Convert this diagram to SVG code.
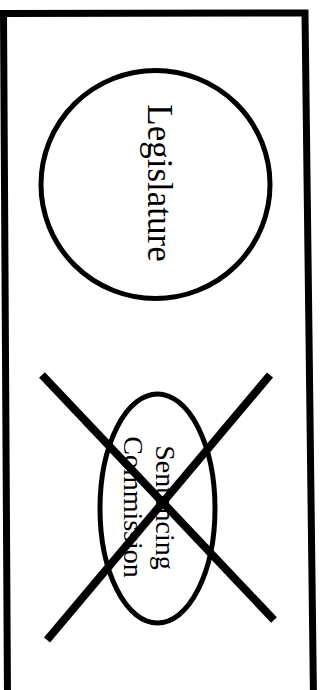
<svg xmlns="http://www.w3.org/2000/svg" width="320" height="690" viewBox="0 0 320 690">
  <style>
    .frame { fill: none; stroke: #000; stroke-width: 7; stroke-linejoin: miter; }
    .node { fill: none; stroke: #000; stroke-width: 5; }
    .cross { stroke: #000; stroke-width: 8; stroke-linecap: butt; }
    .lbl { font-family: "Liberation Serif", "Times New Roman", serif; fill: #000; text-anchor: middle; }
  </style>
  <rect x="0" y="0" width="320" height="690" fill="#fff"/>
  <path class="frame" d="M 7.5 700 L 3.5 13.5 L 305 13 L 313.5 700"/>
  <g id="legislature">
    <ellipse class="node" cx="155.5" cy="184.5" rx="114.5" ry="114"/>
    <text class="lbl" font-size="35" transform="translate(148,183) rotate(90)">Legislature</text>
  </g>
  <g id="sentencing-commission">
    <ellipse class="node" cx="157.5" cy="508.5" rx="57.5" ry="114.5"/>
    <text class="lbl" font-size="28" transform="translate(156,507.5) rotate(90)">Sentencing</text>
    <text class="lbl" font-size="28" transform="translate(123.5,507) rotate(90)">Commission</text>
  </g>
  <g id="connectors">
    <line class="cross" x1="42" y1="375" x2="274" y2="620"/>
    <line class="cross" x1="270" y1="375" x2="47" y2="640"/>
  </g>
</svg>
